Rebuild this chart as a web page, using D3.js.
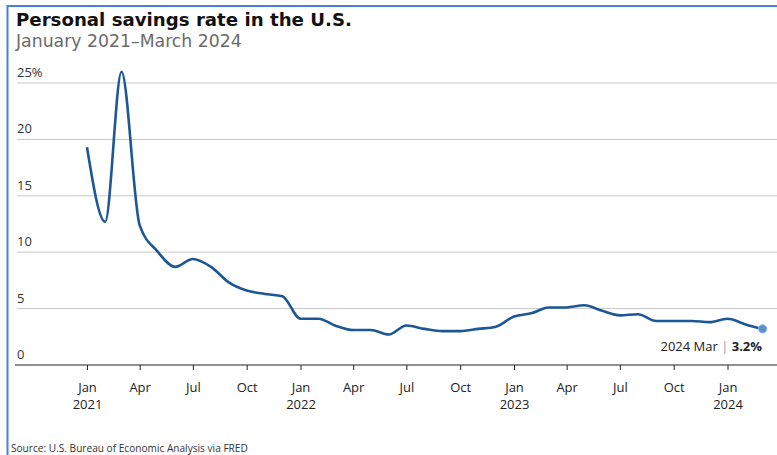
<!DOCTYPE html>
<html>
<head>
<meta charset="utf-8">
<script src="https://cdn.jsdelivr.net/npm/d3@7"></script>
<style>
  html, body { margin: 0; padding: 0; background: #fff; }
  svg { display: block; font-family: "Open Sans", Lato, sans-serif; }
</style>
</head>
<body>
<svg id="chart" width="777" height="455"></svg>
<script>
// Personal saving rate (% of disposable income), monthly
const months = [
  "2021-01","2021-02","2021-03","2021-04","2021-05","2021-06","2021-07","2021-08","2021-09","2021-10","2021-11","2021-12",
  "2022-01","2022-02","2022-03","2022-04","2022-05","2022-06","2022-07","2022-08","2022-09","2022-10","2022-11","2022-12",
  "2023-01","2023-02","2023-03","2023-04","2023-05","2023-06","2023-07","2023-08","2023-09","2023-10","2023-11","2023-12",
  "2024-01","2024-02","2024-03"
];
const savingsRate = [
  19.3, 12.7, 26.0, 12.4, 10.1, 8.7, 9.4, 8.7, 7.3, 6.6, 6.3, 6.1,
  4.1, 4.1, 3.5, 3.1, 3.1, 2.7, 3.5, 3.2, 3.0, 3.0, 3.2, 3.4,
  4.3, 4.6, 5.1, 5.1, 5.3, 4.8, 4.4, 4.5, 3.9, 3.9, 3.9, 3.8,
  4.1, 3.6, 3.2
];
const yTicks = [0, 5, 10, 15, 20, 25];
const monthNames = ["Jan","Feb","Mar","Apr","May","Jun","Jul","Aug","Sep","Oct","Nov","Dec"];

const title = "Personal savings rate in the U.S.";
const subtitle = "January 2021\u2013March 2024";
const source = "Source: U.S. Bureau of Economic Analysis via FRED";

const parseMonth = d3.timeParse("%Y-%m");
const data = months.map((m, i) => ({ date: parseMonth(m), value: savingsRate[i] }));
const last = data[data.length - 1];

const svg = d3.select("#chart");
const W = 777, H = 455;

// size a text so it spans the given width
function fitWidth(sel, width) {
  const fs = parseFloat(sel.attr("font-size"));
  const w = sel.node().getComputedTextLength();
  sel.attr("font-size", (fs * width / w).toFixed(2));
  return sel;
}

// frame accents
svg.append("line").attr("x1", 7.5).attr("x2", W).attr("y1", 6).attr("y2", 6)
  .attr("stroke", "#4a7fd6").attr("stroke-width", 2);
svg.append("line").attr("x1", 7.5).attr("x2", 7.5).attr("y1", 5).attr("y2", H)
  .attr("stroke", "#4a7fd6").attr("stroke-width", 2);

// headings
fitWidth(svg.append("text").attr("x", 16).attr("y", 26)
  .style("font-family", "'DejaVu Sans', sans-serif")
  .attr("font-size", 16).attr("font-weight", 700).attr("fill", "#111")
  .text(title), 336);
fitWidth(svg.append("text").attr("x", 16).attr("y", 47)
  .style("font-family", "'DejaVu Sans', sans-serif")
  .attr("font-size", 15).attr("fill", "#6b6b6b")
  .text(subtitle), 226);

// scales
const x = d3.scaleTime()
  .domain([data[0].date, last.date])
  .range([87, 762.6]);
const y = d3.scaleLinear().domain([0, 25]).range([365, 83]);

// grid lines + y labels
const grid = svg.append("g");
yTicks.filter(t => t > 0).forEach(t => {
  grid.append("line").attr("x1", 17).attr("x2", W).attr("y1", y(t)).attr("y2", y(t))
    .attr("stroke", "#c8c8c8").attr("stroke-width", 1);
});
yTicks.forEach(t => {
  grid.append("text").attr("x", 17).attr("y", y(t) - 6)
    .attr("font-size", 13).attr("fill", "#333")
    .text(t === 25 ? t + "%" : t);
});

// x axis
const xTickDates = d3.timeMonth.every(3).range(data[0].date, d3.timeMonth.offset(last.date, 1));
const xAxis = d3.axisBottom(x)
  .tickValues(xTickDates)
  .tickSize(5)
  .tickFormat(d => monthNames[d.getMonth()]);
const gx = svg.append("g").attr("transform", "translate(0,365)").call(xAxis);
gx.attr("font-family", null);
gx.select(".domain").remove();
gx.selectAll(".tick line").attr("stroke", "#222");
gx.selectAll(".tick text")
  .attr("y", 18).attr("font-size", 13).attr("fill", "#222")
  .each(function(d) {
    if (d.getMonth() === 0) {
      d3.select(this).append("tspan").attr("x", 0).attr("dy", 17).text(d.getFullYear());
    }
  });
svg.append("line").attr("x1", 15).attr("x2", W).attr("y1", 365).attr("y2", 365)
  .attr("stroke", "#222").attr("stroke-width", 1.2);

// series line
const line = d3.line()
  .x(d => x(d.date))
  .y(d => y(d.value))
  .curve(d3.curveMonotoneX);
svg.append("path").datum(data)
  .attr("d", line)
  .attr("fill", "none")
  .attr("stroke", "#1d5796")
  .attr("stroke-width", 2.6)
  .attr("stroke-linejoin", "round");

// end point marker
svg.append("circle").attr("cx", x(last.date)).attr("cy", y(last.value)).attr("r", 4.2)
  .attr("fill", "#5b92cc").attr("stroke", "#8fb6e0").attr("stroke-width", 1);

// end label
const lbl = svg.append("text").attr("x", 762).attr("y", 351)
  .attr("text-anchor", "end").attr("font-size", 13).attr("fill", "#222");
lbl.append("tspan").text(d3.timeFormat("%Y %b")(last.date) + " ");
lbl.append("tspan").attr("fill", "#999").text("|");
lbl.append("tspan").attr("font-weight", 700).text(" " + last.value.toFixed(1) + "%");

// source
fitWidth(svg.append("text").attr("x", 11).attr("y", 452)
  .attr("font-size", 12).attr("fill", "#333")
  .text(source), 237);
</script>
</body>
</html>
